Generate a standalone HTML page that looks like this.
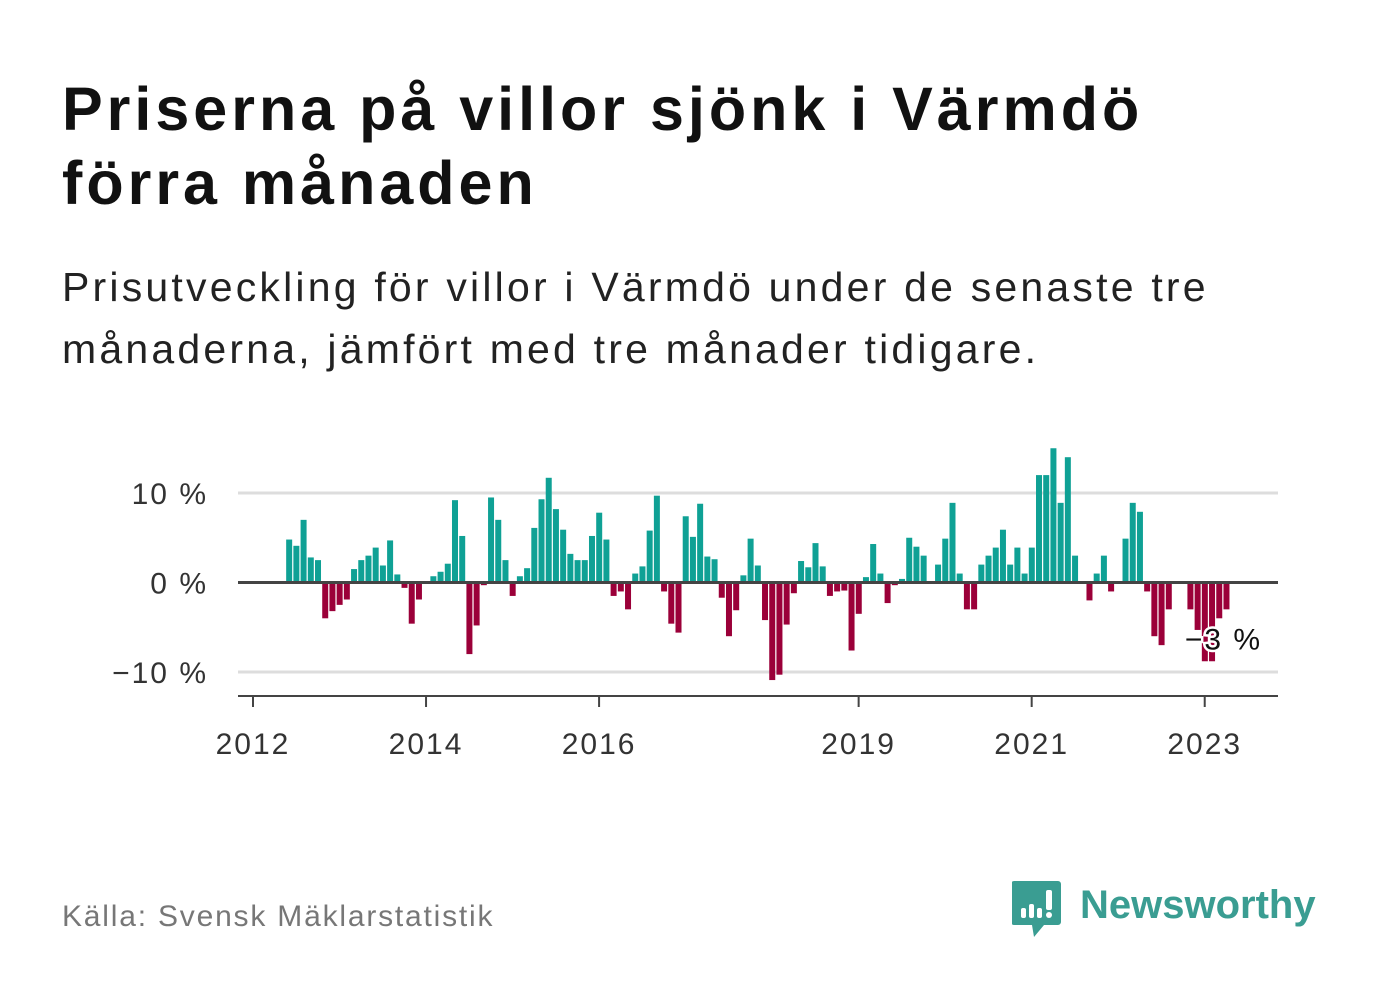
<!DOCTYPE html>
<html><head><meta charset="utf-8">
<style>
body{margin:0;width:1382px;height:999px;background:#fff;font-family:"Liberation Sans",sans-serif;position:relative;overflow:hidden}
#title{position:absolute;left:62px;top:72px;font-size:61px;font-weight:bold;line-height:74px;color:#111;margin:0;letter-spacing:4px}
#sub{position:absolute;left:62px;top:256px;font-size:41px;line-height:62px;color:#222;margin:0;letter-spacing:3.2px}
#src{position:absolute;left:62px;top:900px;font-size:30px;color:#777;letter-spacing:1.8px}
#logo{position:absolute;left:1012px;top:880px}
svg text{font-family:"Liberation Sans",sans-serif}
</style></head><body>
<h1 id="title">Priserna på villor sjönk i Värmdö<br>förra månaden</h1>
<p id="sub">Prisutveckling för villor i Värmdö under de senaste tre<br>månaderna, jämfört med tre månader tidigare.</p>
<svg id="chart" width="1382" height="800" style="position:absolute;left:0;top:0"></svg>
<div id="src">Källa: Svensk Mäklarstatistik</div>
<div id="logo">
<svg width="310" height="60">
<path d="M2 1 h44 a3 3 0 0 1 3 3 v38 a3 3 0 0 1 -3 3 h-14 l-10 12 l-2 -12 h-18 a3 3 0 0 1 -3 -3 v-38 a3 3 0 0 1 3 -3z" fill="#3a9d92"/>
<rect x="9" y="28" width="5" height="10" rx="2" fill="#fff"/>
<rect x="17" y="24" width="5" height="14" rx="2" fill="#fff"/>
<rect x="25" y="28" width="5" height="10" rx="2" fill="#fff"/>
<rect x="34" y="10" width="6" height="20" rx="2" fill="#fff"/>
<circle cx="37" cy="35" r="3" fill="#fff"/>
<text x="68" y="38" font-size="40" font-weight="bold" fill="#3a9d92">Newsworthy</text>
</svg></div>
<script>
const startMonth = 4; // May 2012
const values = [4.8,4.1,7.0,2.8,2.5,-4.0,-3.2,-2.5,-1.9,1.5,2.5,3.0,3.9,1.9,4.7,0.9,-0.6,-4.6,-1.9,null,
0.7,1.2,2.1,9.2,5.2,-8.0,-4.8,-0.3,9.5,7.0,2.5,-1.5,0.7,1.6,6.1,9.3,11.7,8.2,5.9,3.2,2.5,2.5,5.2,7.8,4.8,-1.5,-1.0,-3.0,
1.0,1.8,5.8,9.7,-1.0,-4.6,-5.6,7.4,5.1,8.8,2.9,2.6,-1.7,-6.0,-3.1,0.8,4.9,1.9,-4.2,-10.9,-10.3,-4.7,-1.2,
2.4,1.7,4.4,1.8,-1.5,-1.0,-0.9,-7.6,-3.5,0.6,4.3,1.0,-2.3,-0.3,0.4,5.0,4.0,3.0,null,2.0,4.9,8.9,1.0,-3.0,-3.0,
2.0,3.0,3.9,5.9,2.0,3.9,1.0,3.9,12.0,12.0,15.0,8.9,14.0,3.0,null,-2.0,1.0,3.0,-1.0,null,4.9,8.9,7.9,
-1.0,-6.0,-7.0,-3.0,null,null,-3.0,-5.3,-8.8,-8.8,-4.0,-3.0];
const yTicks = [10,0,-10];
const yTickLabels = ["10 %","0 %","\u221210 %"];
const xTickYears = [2012,2014,2016,2019,2021,2023];
const lastLabel = "\u22123 %";

const NS="http://www.w3.org/2000/svg";
const svg=document.getElementById('chart');
const xS=m=>253+m*7.21;
const yS=v=>582.5-v*8.95;
function mk(t,a){const e=document.createElementNS(NS,t);for(const k in a)e.setAttribute(k,a[k]);svg.appendChild(e);return e;}
yTicks.forEach((t,i)=>{
  if(t!==0){const g=mk('line',{x1:238,x2:1278,y1:yS(t),y2:yS(t),stroke:'#ddd','stroke-width':3});
  
  }
  const l=mk('text',{x:208,y:yS(t)+11,'text-anchor':'end','font-size':30,'letter-spacing':2,fill:'#333'});
  l.textContent=yTickLabels[i];
  
  
});
values.forEach((v,i)=>{
  if(v===null)return;
  const m=startMonth+i;
  const y0=yS(0),y1=yS(v);
  const r=mk('rect',{x:xS(m+0.6),width:6,y:Math.min(y0,y1),height:Math.abs(y1-y0),fill:v>=0?'#0fa195':'#9b0039'});
  
  
});
const z=mk('line',{x1:238,x2:1278,y1:yS(0),y2:yS(0),stroke:'#444','stroke-width':3});


const ax=mk('line',{x1:238,x2:1278,y1:696,y2:696,stroke:'#444','stroke-width':2});


xTickYears.forEach(yr=>{
  const x=xS((yr-2012)*12);
  const t=mk('line',{x1:x,x2:x,y1:696,y2:707,stroke:'#444','stroke-width':2});
  
  
  const l=mk('text',{x:x,y:754,'text-anchor':'middle','font-size':30,'letter-spacing':2,fill:'#333'});
  l.textContent=yr;
  
  
});
const lv=values[values.length-1];
const lx=xS(startMonth+values.length-1+0.6);
const lab=mk('text',{x:lx,y:yS(lv)+40,'text-anchor':'middle','font-size':30,'letter-spacing':2,fill:'#111',stroke:'#fff','stroke-width':5,'paint-order':'stroke'});
lab.textContent=lastLabel;


</script>
</body></html>
